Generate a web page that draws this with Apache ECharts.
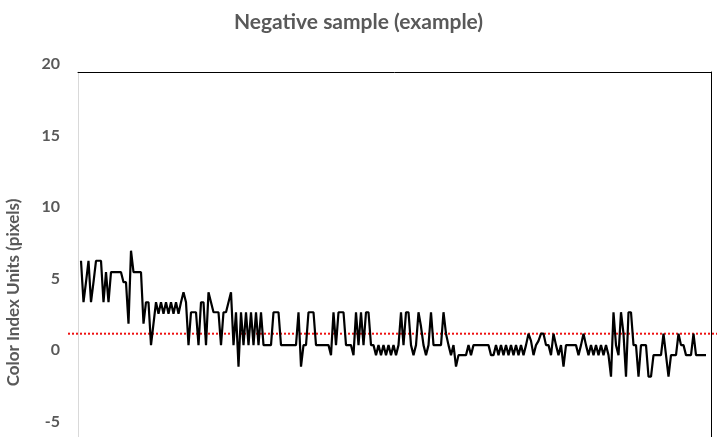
<!DOCTYPE html>
<html lang="en">
<head>
    <meta charset="UTF-8">
    <title>Negative sample (example)</title>
    <style>
        html, body { margin: 0; padding: 0; background: #fff; }
    </style>
</head>
<body>
<div id="main" style="width: 717px;height:437px;"></div>
</body>
<script src="https://cdn.jsdelivr.net/npm/echarts@6/dist/echarts.min.js"></script>
<script>
    // values, one per sample (left to right)
    var colorIndex = [
        6.8, 3.9, 5.3, 6.8, 3.9, 5.3, 6.8, 6.8, 6.8, 3.9,
        6.0, 3.9, 6.0, 6.0, 6.0, 6.0, 6.0, 5.3, 5.3, 2.4,
        7.5, 6.0, 6.0, 6.0, 6.0, 2.4, 3.9, 3.9, 0.9, 2.4,
        3.9, 3.1, 3.9, 3.1, 3.9, 3.1, 3.9, 3.1, 3.9, 3.1,
        3.9, 4.6,
        3.9, 0.9, 3.2, 3.2, 3.2, 0.9, 3.9, 3.9, 0.9, 4.6,
        3.9, 3.2, 3.2, 3.2, 0.9, 3.2, 3.2, 3.9, 4.6, 0.9,
        3.2, -0.6, 3.2, 0.9, 3.2, 0.9, 3.2, 0.9, 3.2, 0.9,
        3.2, 0.9, 0.9, 0.9, 0.9, 3.2, 3.2, 3.2, 0.9, 0.9,
        0.9, 0.9,
        0.9, 0.9, 0.9, 3.2, -0.6, 0.9, 0.9, 3.2, 3.2, 3.2,
        0.9, 0.9, 0.9, 0.9, 0.9, 0.9, 0.2, 3.2, 0.9, 3.2,
        3.2, 3.2, 0.9, 0.9, 0.9, 0.2, 3.2, 0.9, 3.2, 0.9,
        3.2, 3.2, 0.9, 0.9, 0.2, 0.9, 0.2, 0.9, 0.2, 0.9,
        0.2, 0.9, 0.2,
        0.9, 3.2, 0.9, 3.2, 3.2, 0.9, 0.2, 0.9, 3.2, 2.2,
        0.9, 0.2, 0.9, 3.2, 0.9, 0.9, 0.9, 0.9, 3.2, 1.7,
        0.9, 0.2, 0.9, -0.6, 0.2, 0.2, 0.2, 0.2, 0.9, 0.2,
        0.9, 0.9, 0.9, 0.9, 0.9, 0.9, 0.9, 0.2, 0.2, 0.9,
        0.2, 0.9,
        0.2, 0.9, 0.2, 0.9, 0.2, 0.9, 0.2, 0.9, 0.2, 0.9,
        1.7, 1.2, 0.2, 0.9, 1.2, 1.7, 1.7, 0.9, 0.9, 0.2,
        1.7, 0.9, 0.2, 0.9, -0.6, 0.9, 0.9, 0.9, 0.9, 0.9,
        0.2, 0.9, 1.7, 0.9, 0.2, 0.9, 0.2, 0.9, 0.2, 0.9,
        0.2, 0.9,
        0.2, -1.3, 3.2, 0.9, 0.2, 3.2, 1.7, -1.3, 3.2, 3.2,
        0.9, 0.9, -1.3, 0.9, 0.9, 0.9, -1.3, -1.3, 0.2, 0.2,
        0.2, 0.2, 1.7, 0.2, -1.3, 0.2, 0.2, 0.2, 1.7, 0.9,
        0.9, 0.2, 0.2, 0.2, 1.7, 0.2, 0.2, 0.2, 0.2, 0.2
    ];
    var threshold = 1.7;   // red dotted cut-off line
    var yMin = -10, yMax = 20, yStep = 5;

    var seriesData = [];
    for (var i = 0; i < colorIndex.length; i++) {
        seriesData.push([i, colorIndex[i]]);
    }

    var textGray = '#595959';
    var app = echarts.init(document.getElementById('main'));
    var option = {
        animation: false,
        title: {
            text: 'Negative sample (example)',
            left: 'center',
            top: 7,
            textStyle: {
                fontFamily: 'Lato',
                fontWeight: 'bold',
                fontSize: 21,
                color: textGray
            }
        },
        grid: [
            // plot area (its bottom runs past the picture)
            {left: 78, right: 6, top: 72, bottom: -64, outerBoundsMode: 'none'},
            // wider strip for the threshold line
            {left: 68, right: 0, top: 72, bottom: -64, outerBoundsMode: 'none'}
        ],
        xAxis: [
            {
                gridIndex: 0,
                type: 'value',
                position: 'top',
                min: -1.2,
                max: 252,
                axisLine: {show: true, onZero: false, lineStyle: {color: '#000', width: 1}},
                axisTick: {show: false},
                axisLabel: {show: false},
                splitLine: {show: false}
            },
            {
                gridIndex: 1,
                type: 'value',
                min: 0,
                max: 1,
                show: false
            }
        ],
        yAxis: [
            {
                gridIndex: 0,
                type: 'value',
                min: yMin,
                max: yMax,
                interval: yStep,
                name: 'Color Index Units (pixels)',
                nameLocation: 'middle',
                nameRotate: 90,
                nameGap: 56,
                nameTextStyle: {
                    fontFamily: 'Lato',
                    fontWeight: 'bold',
                    fontSize: 17,
                    color: textGray,
                    padding: [0, 12, 0, 0]
                },
                axisLine: {show: true, onZero: false, lineStyle: {color: '#d9d9d9', width: 1}},
                axisTick: {show: false},
                splitLine: {show: false},
                axisLabel: {
                    margin: 18,
                    fontFamily: 'Lato',
                    fontWeight: 'bold',
                    fontSize: 16,
                    color: textGray,
                    verticalAlign: 'bottom',
                    lineHeight: 16
                }
            },
            {
                gridIndex: 0,
                type: 'value',
                position: 'right',
                min: yMin,
                max: yMax,
                interval: yStep,
                axisLine: {show: true, onZero: false, lineStyle: {color: '#000', width: 1}},
                axisTick: {show: false},
                axisLabel: {show: false},
                splitLine: {show: false}
            },
            {
                gridIndex: 1,
                type: 'value',
                min: yMin,
                max: yMax,
                show: false
            }
        ],
        series: [
            {
                name: 'threshold',
                type: 'line',
                xAxisIndex: 1,
                yAxisIndex: 2,
                symbol: 'none',
                silent: true,
                z: 1,
                lineStyle: {color: '#ee1111', width: 2, type: [2, 2]},
                data: [[0, threshold], [1, threshold]]
            },
            {
                name: 'Color Index',
                type: 'line',
                xAxisIndex: 0,
                yAxisIndex: 0,
                symbol: 'none',
                z: 2,
                lineStyle: {color: '#000', width: 2.2},
                data: seriesData
            }
        ]
    };
    app.setOption(option);
</script>
</html>
